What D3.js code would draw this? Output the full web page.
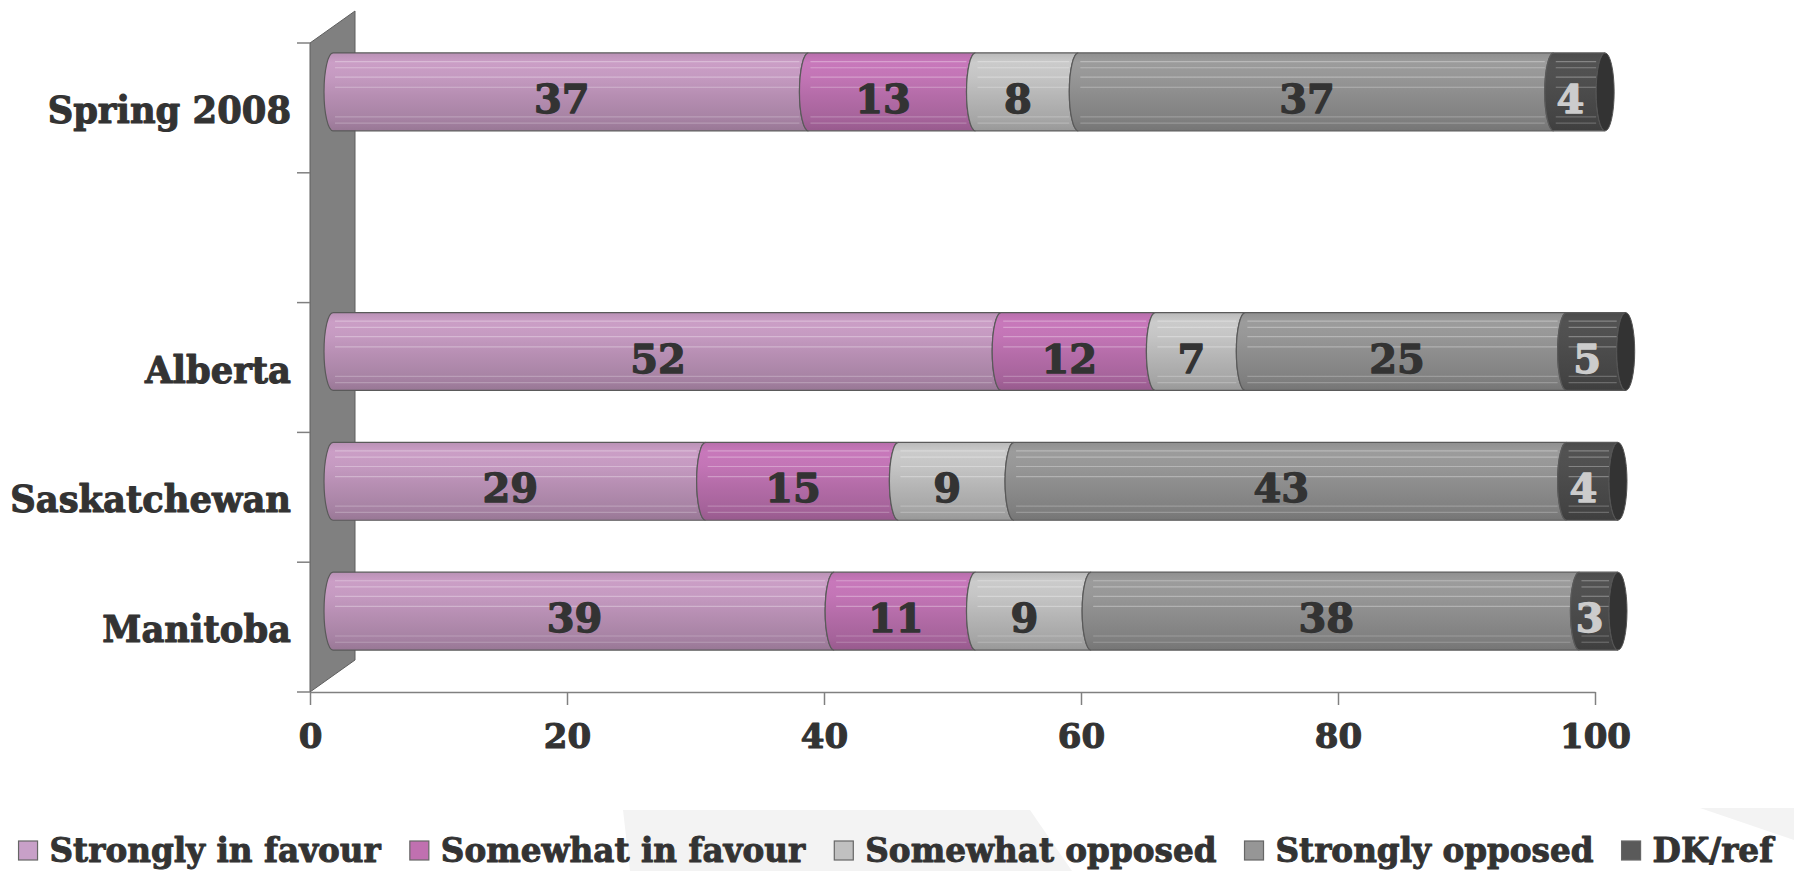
<!DOCTYPE html>
<html>
<head>
<meta charset="utf-8">
<script src="https://cdn.jsdelivr.net/npm/d3@7"></script>
<style>
body{margin:0;background:#fff;}
svg{display:block;}
</style>
</head>
<body>
<div class="c_chart"></div>
<script>
/*DATA
------------------------------------------------------
*/
const categories = ["Spring 2008", "", "Alberta", "Saskatchewan", "Manitoba"];
const seriesNames = ["Strongly in favour", "Somewhat in favour", "Somewhat opposed", "Strongly opposed", "DK/ref"];
const spring2008 = [37, 13, 8, 37, 4];
const alberta = [52, 12, 7, 25, 4.6];
const saskatchewan = [29, 15, 9, 43, 4];
const manitoba = [39, 11, 9, 38, 3];
const tickValues = [0, 20, 40, 60, 80, 100];

/*STYLE
------------------------------------------------------
*/
const swatchColors = ["#c8a0c8", "#c070b0", "#c0c0c0", "#969696", "#5a5a5a"];
const barColors = ["#b68eb2", "#b46ca8", "#b6b6b6", "#8c8c8c", "#4a4a4a"];
const fontFam = "'DejaVu Serif', serif";
const width = 1794, height = 871;

let svg = d3.select(".c_chart")
	.append("svg")
	.attr("width", width)
	.attr("height", height);

// rows for the stack, built from the arrays above
const rowValues = {"Spring 2008": spring2008, "Alberta": alberta, "Saskatchewan": saskatchewan, "Manitoba": manitoba};
const table = categories.filter(c => c !== "").map(c => {
	let o = {cat: c};
	seriesNames.forEach((s, i) => o[s] = rowValues[c][i]);
	return o;
});
const series = d3.stack().keys(seriesNames)(table);

/*SCALES
------------------------------------------------------
*/
let x = d3.scaleLinear().domain([0, 100]).range([310, 1595]);
let y = d3.scaleBand().domain(categories).range([43, 692])
	.paddingInner(0.4).paddingOuter(0.2);

const wallDepth = [45, -32];
const barShift = [23, -16];
const rx = 9;

/*BACKGROUND SWOOSHES
------------------------------------------------------
*/
svg.append("path")
	.attr("d", "M623,810 L1030,810 L1072,871 L630,871 Z")
	.attr("fill", "#f3f3f3");
svg.append("path")
	.attr("d", "M1700,808 L1794,808 L1794,840 Z")
	.attr("fill", "#f3f3f3");

/*GRADIENTS
------------------------------------------------------
*/
let defs = svg.append("defs");
barColors.forEach((c, i) => {
	let g = defs.append("linearGradient")
		.attr("id", "grad" + i)
		.attr("x1", 0).attr("y1", 0).attr("x2", 0).attr("y2", 1);
	const base = d3.color(c);
	const stops = [
		[0, base.brighter(0.05)],
		[0.12, base.brighter(0.3)],
		[0.3, base.brighter(0.22)],
		[0.55, base],
		[0.85, base.darker(0.25)],
		[1, base.darker(0.5)]
	];
	stops.forEach(s => g.append("stop").attr("offset", s[0]).attr("stop-color", s[1].formatHex()));
});

/*WALL + Y TICKS
------------------------------------------------------
*/
const x0 = x(0), yTop = y.range()[0], yBot = y.range()[1];
svg.append("path")
	.attr("d", `M${x0},${yTop} L${x0 + wallDepth[0]},${yTop + wallDepth[1]} L${x0 + wallDepth[0]},${yBot + wallDepth[1]} L${x0},${yBot} Z`)
	.attr("fill", "#808080")
	.attr("stroke", "#5f5f5f")
	.attr("stroke-width", 1);

svg.append("g")
	.selectAll("line")
	.data(d3.range(categories.length + 1))
	.enter()
	.append("line")
	.attr("x1", x0 - 13).attr("x2", x0)
	.attr("y1", i => yTop + i * y.step())
	.attr("y2", i => yTop + i * y.step())
	.attr("stroke", "#808080")
	.attr("stroke-width", 1.5);

// heavier text, the original face is blacker than DejaVu bold
function heavy(sel, sw) {
	sel.attr("fill", "#333")
		.attr("stroke", "#333")
		.attr("stroke-width", sw)
		.attr("stroke-linejoin", "round")
		.style("font-family", fontFam)
		.style("font-weight", "bold");
}

/*X AXIS
------------------------------------------------------
*/
let xAxis = svg.append("g")
	.attr("transform", `translate(0,${yBot})`)
	.call(d3.axisBottom(x).tickValues(tickValues).tickSize(13).tickSizeOuter(0));
xAxis.select(".domain").attr("stroke", "#808080").attr("stroke-width", 1.5);
xAxis.selectAll(".tick line").attr("stroke", "#808080").attr("stroke-width", 1.5);
xAxis.selectAll(".tick text")
	.attr("y", 56).attr("dy", null)
	.call(heavy, 1.1)
	.style("font-size", "34px");

/*BARS
------------------------------------------------------
*/
const stripes = [0.11, 0.19, 0.31, 0.44, 0.82, 0.9];
const h = y.bandwidth();
let fmt = d3.format(".0f");

function segPath(xa, xb, yt) {
	return `M${xa},${yt} A${rx},${h / 2} 0 0 0 ${xa},${yt + h} L${xb},${yt + h} A${rx},${h / 2} 0 0 1 ${xb},${yt} Z`;
}

let barG = svg.append("g").attr("transform", `translate(${barShift[0]},${barShift[1]})`);

series.forEach((layer, si) => {
	let g = barG.append("g");
	layer.forEach(d => {
		const xa = x(d[0]), xb = x(d[1]), yt = y(d.data.cat);
		g.append("path")
			.attr("d", segPath(xa, xb, yt))
			.attr("fill", `url(#grad${si})`)
			.attr("stroke", "#5a5a5a")
			.attr("stroke-width", 1.2);
		stripes.forEach(f => {
			g.append("line")
				.attr("x1", xa + 2).attr("x2", xb - rx)
				.attr("y1", yt + f * h).attr("y2", yt + f * h)
				.attr("stroke", "#ffffff")
				.attr("stroke-opacity", f < 0.5 ? 0.3 : 0.22)
				.attr("stroke-width", 1.2);
		});
	});
});

// end caps
barG.append("g")
	.selectAll("ellipse")
	.data(series[series.length - 1])
	.enter()
	.append("ellipse")
	.attr("cx", d => x(d[1]))
	.attr("cy", d => y(d.data.cat) + h / 2)
	.attr("rx", rx)
	.attr("ry", h / 2)
	.attr("fill", "#333")
	.attr("stroke", "#555")
	.attr("stroke-width", 1);

// value labels, centred on the visible face of each segment
series.forEach((layer, si) => {
	let t = barG.append("g")
		.selectAll("text")
		.data(layer)
		.enter()
		.append("text")
		.attr("x", d => (x(d[0]) + x(d[1])) / 2 - rx)
		.attr("y", d => y(d.data.cat) + h / 2 + 21)
		.attr("text-anchor", "middle")
		.call(heavy, 1.3)
		.style("font-size", "40px")
		.text(d => fmt(d[1] - d[0]));
	if (si === 4) t.attr("fill", "#cccccc").attr("stroke", "#cccccc");
});

/*CATEGORY LABELS
------------------------------------------------------
*/
function condense(sel, k) {
	sel.each(function () {
		const len = this.getComputedTextLength();
		d3.select(this).attr("textLength", len * k).attr("lengthAdjust", "spacingAndGlyphs");
	});
}

svg.append("g")
	.selectAll("text")
	.data(categories.filter(c => c !== ""))
	.enter()
	.append("text")
	.attr("x", 291)
	.attr("y", d => y(d) + h / 2 + 15)
	.attr("text-anchor", "end")
	.call(heavy, 1.1)
	.style("font-size", "38px")
	.text(d => d)
	.call(condense, 0.93);

/*LEGEND
------------------------------------------------------
*/
let legend = svg.append("g");
let items = legend.selectAll("g")
	.data(seriesNames)
	.enter()
	.append("g");
items.append("rect")
	.attr("width", 19).attr("height", 19)
	.attr("y", -21)
	.attr("fill", (d, i) => swatchColors[i])
	.attr("stroke", "#666")
	.attr("stroke-width", 1.2);
items.append("text")
	.attr("x", 31)
	.call(heavy, 1)
	.style("font-size", "34px")
	.text(d => d)
	.call(condense, 0.96);

let cursor = 0;
items.each(function () {
	const w = this.getBBox().width;
	d3.select(this).attr("transform", `translate(${cursor},0)`);
	cursor += w + 28;
});
cursor -= 28;
legend.attr("transform", `translate(${(width - cursor) / 2},862)`);
</script>
</body>
</html>
